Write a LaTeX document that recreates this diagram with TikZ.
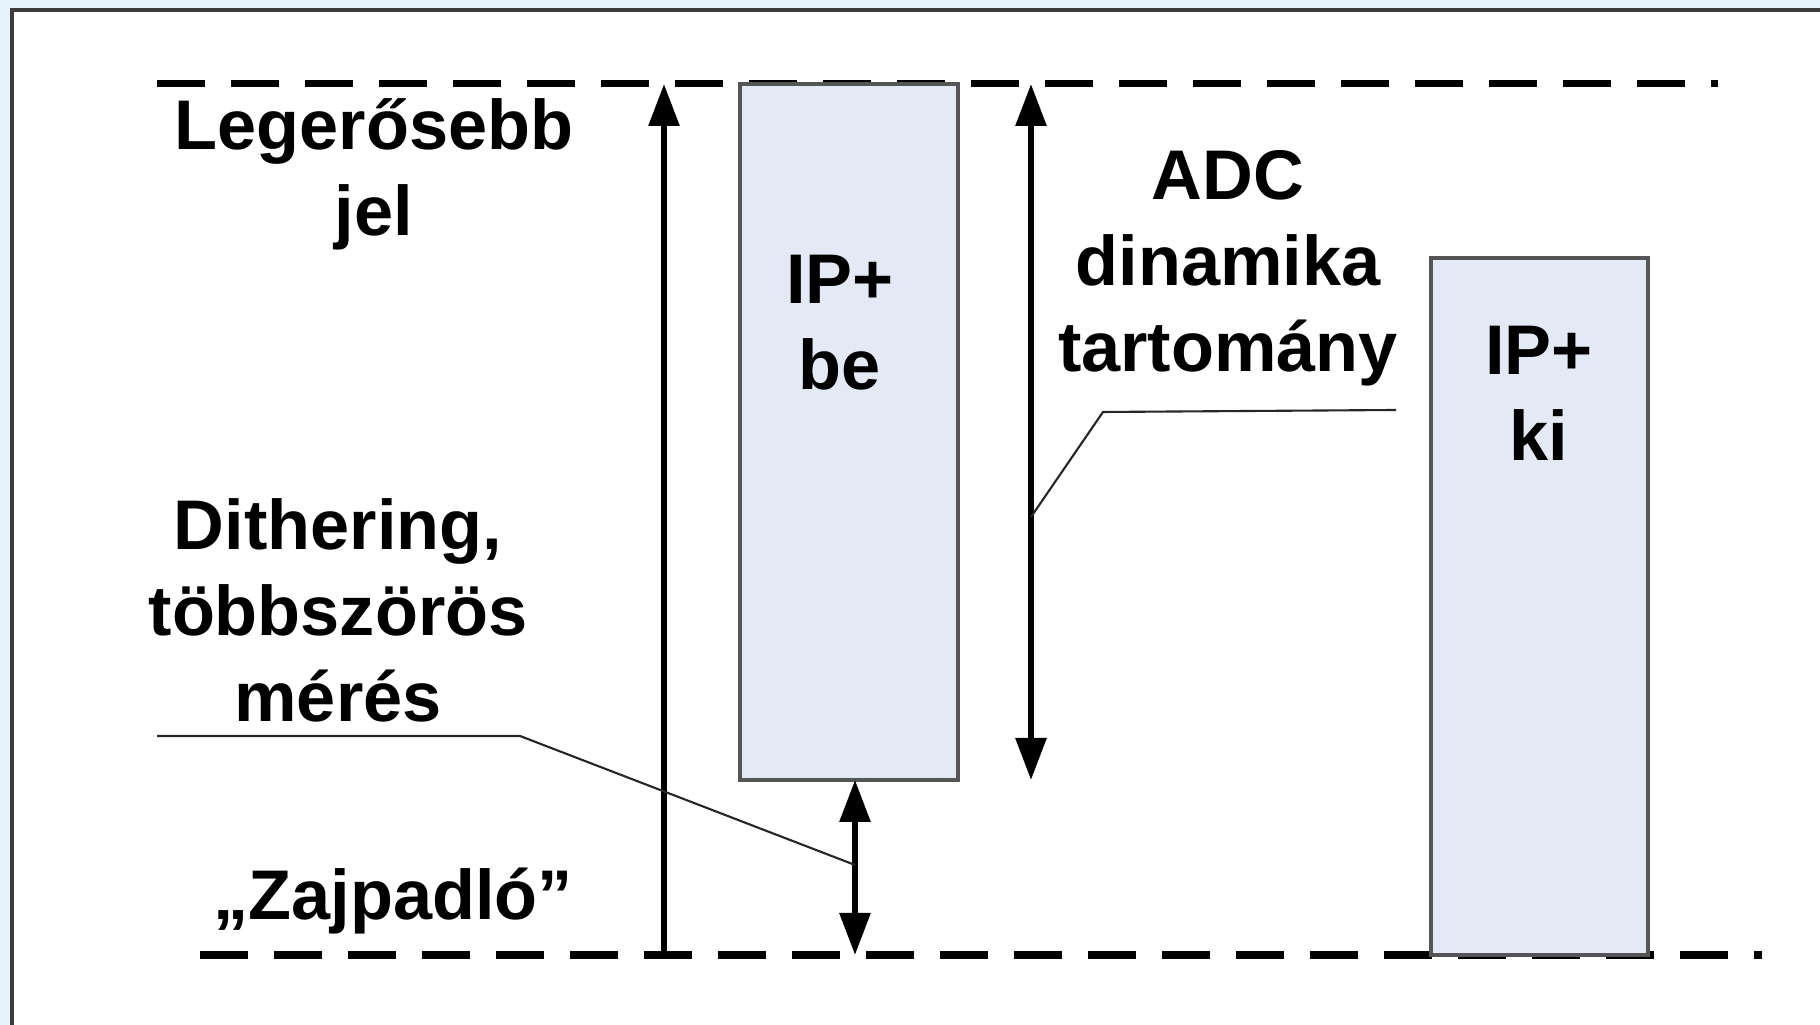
\documentclass[tikz,border=0pt]{standalone}
\usepackage{fontspec}
\setmainfont{Liberation Sans}
\usepackage{xcolor}
\usepackage{tikz}
\usetikzlibrary{arrows.meta, positioning}
\definecolor{boxblue}{RGB}{228, 234, 245}
\definecolor{slideblue}{RGB}{230, 243, 252}
\definecolor{framegray}{RGB}{60, 60, 60}
\definecolor{edgegray}{RGB}{85, 85, 85}

\begin{document}
\begin{tikzpicture}[
  level/.style={line width=2pt, dash pattern=on 0.48cm off 0.26cm},
  sigbox/.style={draw=edgegray, line width=0.9pt, fill=boxblue, inner sep=0pt},
  lbl/.style={font=\fontsize{20}{24.5}\selectfont\bfseries, align=center},
  dimarrow/.style={line width=1.7pt, -{Triangle[width=0.3cm, length=0.42cm]}},
  dimboth/.style={line width=1.7pt, {Triangle[width=0.3cm, length=0.42cm]}-{Triangle[width=0.3cm, length=0.42cm]}},
  callout/.style={line width=0.6pt, draw=black!85}
]
\useasboundingbox (0,0) rectangle (18.2,10.25);
\clip (0,0) rectangle (18.2,10.25);

% slide frame
\fill[slideblue] (0,0) rectangle (18.2,10.25);
\draw[framegray, line width=1.4pt, fill=white] (0.12,-1) rectangle (19,10.15);

% levels
\coordinate (topL) at (1.57,9.41);
\coordinate (topR) at (17.18,9.41);
\coordinate (botL) at (2.00,0.70);
\coordinate (botR) at (17.62,0.70);
\draw[level] (topL) -- (topR);
\draw[level] (botL) -- (botR);

% signal boxes
\node[sigbox, minimum width=2.18cm, minimum height=6.96cm] (be) at (8.49,5.93) {};
\node[sigbox, minimum width=2.17cm, minimum height=6.97cm] (ki) at (15.395,4.185) {};
\node[lbl] (betext) at (8.40,7.02) {IP+\\be};
\node[lbl] (kitext) at (15.39,6.32) {IP+\\ki};

% labels
\node[lbl] (strong) at (3.74,8.51) {Legerősebb\\jel};
\node[lbl] (adc) at (12.28,7.57) {ADC\\dinamika\\tartomány};
\node[lbl] (dith) at (3.38,4.15) {Dithering,\\többszörös\\mérés};
\node[lbl] (noise) at (3.93,1.24) {„Zajpadló”};

% arrows
\coordinate (fullBot) at (6.64,0.70);
\coordinate (fullTop) at (6.64,9.41);
\coordinate (adcTop) at (10.31,9.41);
\coordinate (adcBot) at (10.31,2.45);
\coordinate (ditTop) at (8.55,2.45);
\coordinate (ditBot) at (8.55,0.70);
\draw[dimarrow] (fullBot) -- (fullTop);
\draw[dimboth] (adcTop) -- (adcBot);
\draw[dimboth] (ditTop) -- (ditBot);

% callout lines
\coordinate (adcEnd) at (13.96,6.15);
\coordinate (adcKnee) at (11.03,6.13);
\coordinate (adcTip) at (10.31,5.08);
\draw[callout] (adcEnd) -- (adcKnee) -- (adcTip);
\coordinate (ditEnd) at (1.57,2.89);
\coordinate (ditKnee) at (5.20,2.89);
\coordinate (ditTip) at (8.55,1.60);
\draw[callout] (ditEnd) -- (ditKnee) -- (ditTip);
\end{tikzpicture}
\end{document}
